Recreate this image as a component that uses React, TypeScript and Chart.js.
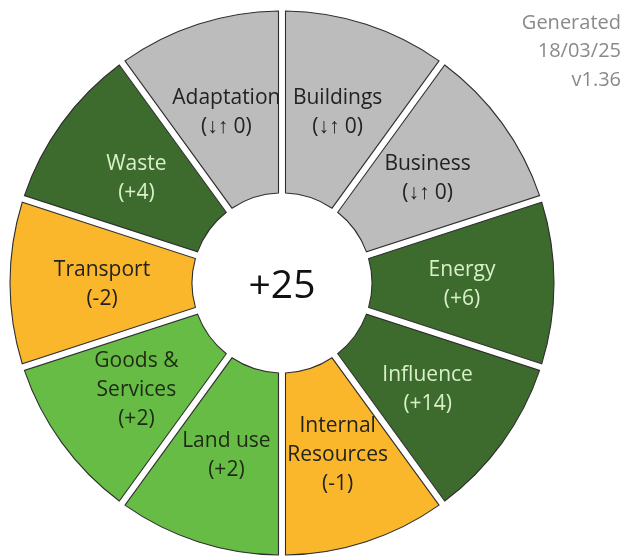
import React, { useEffect, useRef } from 'react';
import { Chart, registerables } from 'chart.js';

Chart.register(...registerables);

// ---- data ----
const categories: string[][] = [
  ['Buildings'],
  ['Business'],
  ['Energy'],
  ['Influence'],
  ['Internal', 'Resources'],
  ['Land use'],
  ['Goods &', 'Services'],
  ['Transport'],
  ['Waste'],
  ['Adaptation'],
];
const scores: number[] = [0, 0, 6, 14, -1, 2, 2, -2, 4, 0];
const weights: number[] = [1, 1, 1, 1, 1, 1, 1, 1, 1, 1];
const fillColors: string[] = [
  '#bcbcbc', '#bcbcbc', '#3d6b2d', '#3d6b2d', '#fbb72c',
  '#67bc46', '#67bc46', '#fbb72c', '#3d6b2d', '#bcbcbc',
];
const textColors: string[] = [
  '#222222', '#222222', '#d9f0c9', '#d9f0c9', '#222222',
  '#1e2a14', '#1e2a14', '#222222', '#d9f0c9', '#222222',
];
const totalLabel = '+25';
const footnoteLines: string[] = ['Generated', '18/03/25', 'v1.36'];

const FONT = '"Open Sans", "Liberation Sans", sans-serif';
const GAP = 7;

function scoreText(v: number): string {
  if (v === 0) return '(\u2193\u2191 0)';
  return v > 0 ? `(+${v})` : `(${v})`;
}

const outlinePlugin = {
  id: 'segmentOutline',
  afterDatasetsDraw(chart: any) {
    const ctx: CanvasRenderingContext2D = chart.ctx;
    const meta = chart.getDatasetMeta(0);
    const g = GAP / 2;
    meta.data.forEach((arc: any) => {
      const { x, y, startAngle, endAngle, innerRadius, outerRadius } = arc.getProps(
        ['x', 'y', 'startAngle', 'endAngle', 'innerRadius', 'outerRadius'],
        true
      );
      const ro = outerRadius - g;
      const ri = innerRadius + g;
      const ao = Math.asin(g / ro);
      const ai = Math.asin(g / ri);
      ctx.save();
      ctx.beginPath();
      ctx.arc(x, y, ro, startAngle + ao, endAngle - ao, false);
      ctx.lineTo(x + Math.cos(endAngle - ai) * ri, y + Math.sin(endAngle - ai) * ri);
      ctx.arc(x, y, ri, endAngle - ai, startAngle + ai, true);
      ctx.closePath();
      ctx.lineWidth = 1.1;
      ctx.lineJoin = 'miter';
      ctx.strokeStyle = '#2e2e2e';
      ctx.stroke();
      ctx.restore();
    });
  },
};

const labelPlugin = {
  id: 'segmentLabels',
  afterDatasetsDraw(chart: any) {
    const ctx: CanvasRenderingContext2D = chart.ctx;
    const meta = chart.getDatasetMeta(0);
    const labelR = 180;
    const lh = 29;
    const fs = 21;
    meta.data.forEach((arc: any, i: number) => {
      const { x, y, startAngle, endAngle } = arc.getProps(['x', 'y', 'startAngle', 'endAngle'], true);
      const mid = (startAngle + endAngle) / 2;
      const cx = x + Math.cos(mid) * labelR;
      const cy = y + Math.sin(mid) * labelR;
      const lines = [...categories[i], scoreText(scores[i])];
      ctx.save();
      ctx.font = `${fs}px ${FONT}`;
      ctx.fillStyle = textColors[i];
      ctx.textAlign = 'center';
      ctx.textBaseline = 'alphabetic';
      lines.forEach((l, j) => {
        ctx.fillText(l, cx, cy + (j - (lines.length - 1) / 2) * lh + 7);
      });
      ctx.restore();
    });
    const a = chart.chartArea;
    const first = meta.data[0];
    ctx.save();
    ctx.font = `39px ${FONT}`;
    ctx.fillStyle = '#111111';
    ctx.textAlign = 'center';
    ctx.textBaseline = 'alphabetic';
    ctx.fillText(totalLabel, first ? first.x : (a.left + a.right) / 2, (first ? first.y : (a.top + a.bottom) / 2) + 15);
    ctx.restore();

    ctx.save();
    ctx.font = `20px ${FONT}`;
    ctx.fillStyle = '#8a8a8a';
    ctx.textAlign = 'right';
    ctx.textBaseline = 'alphabetic';
    const bases = [29, 57, 86];
    footnoteLines.forEach((l, j) => ctx.fillText(l, 621, bases[j]));
    ctx.restore();
  },
};

export default function App() {
  const ref = useRef<HTMLCanvasElement | null>(null);
  useEffect(() => {
    if (!ref.current) return;
    const chart = new Chart(ref.current, {
      type: 'doughnut',
      data: {
        labels: categories.map((c) => c.join(' ')),
        datasets: [
          {
            data: weights,
            backgroundColor: fillColors,
            borderColor: '#ffffff',
            borderWidth: GAP,
            borderAlign: 'center',
            hoverOffset: 0,
          } as any,
        ],
      },
      options: {
        animation: false,
        responsive: false,
        events: [],
        radius: 275.5,
        cutout: '31.4%',
        rotation: 0,
        layout: { padding: { top: 10, right: 61, left: 0, bottom: 0 } },
        plugins: {
          legend: { display: false },
          tooltip: { enabled: false },
        },
      } as any,
      plugins: [outlinePlugin, labelPlugin],
    });
    return () => chart.destroy();
  }, []);
  return (
    <div style={{ position: 'fixed', left: 0, top: 0, width: 625, height: 556, background: '#ffffff' }}>
      <canvas ref={ref} width={625} height={556} style={{ display: 'block', width: 625, height: 556 }} />
    </div>
  );
}
